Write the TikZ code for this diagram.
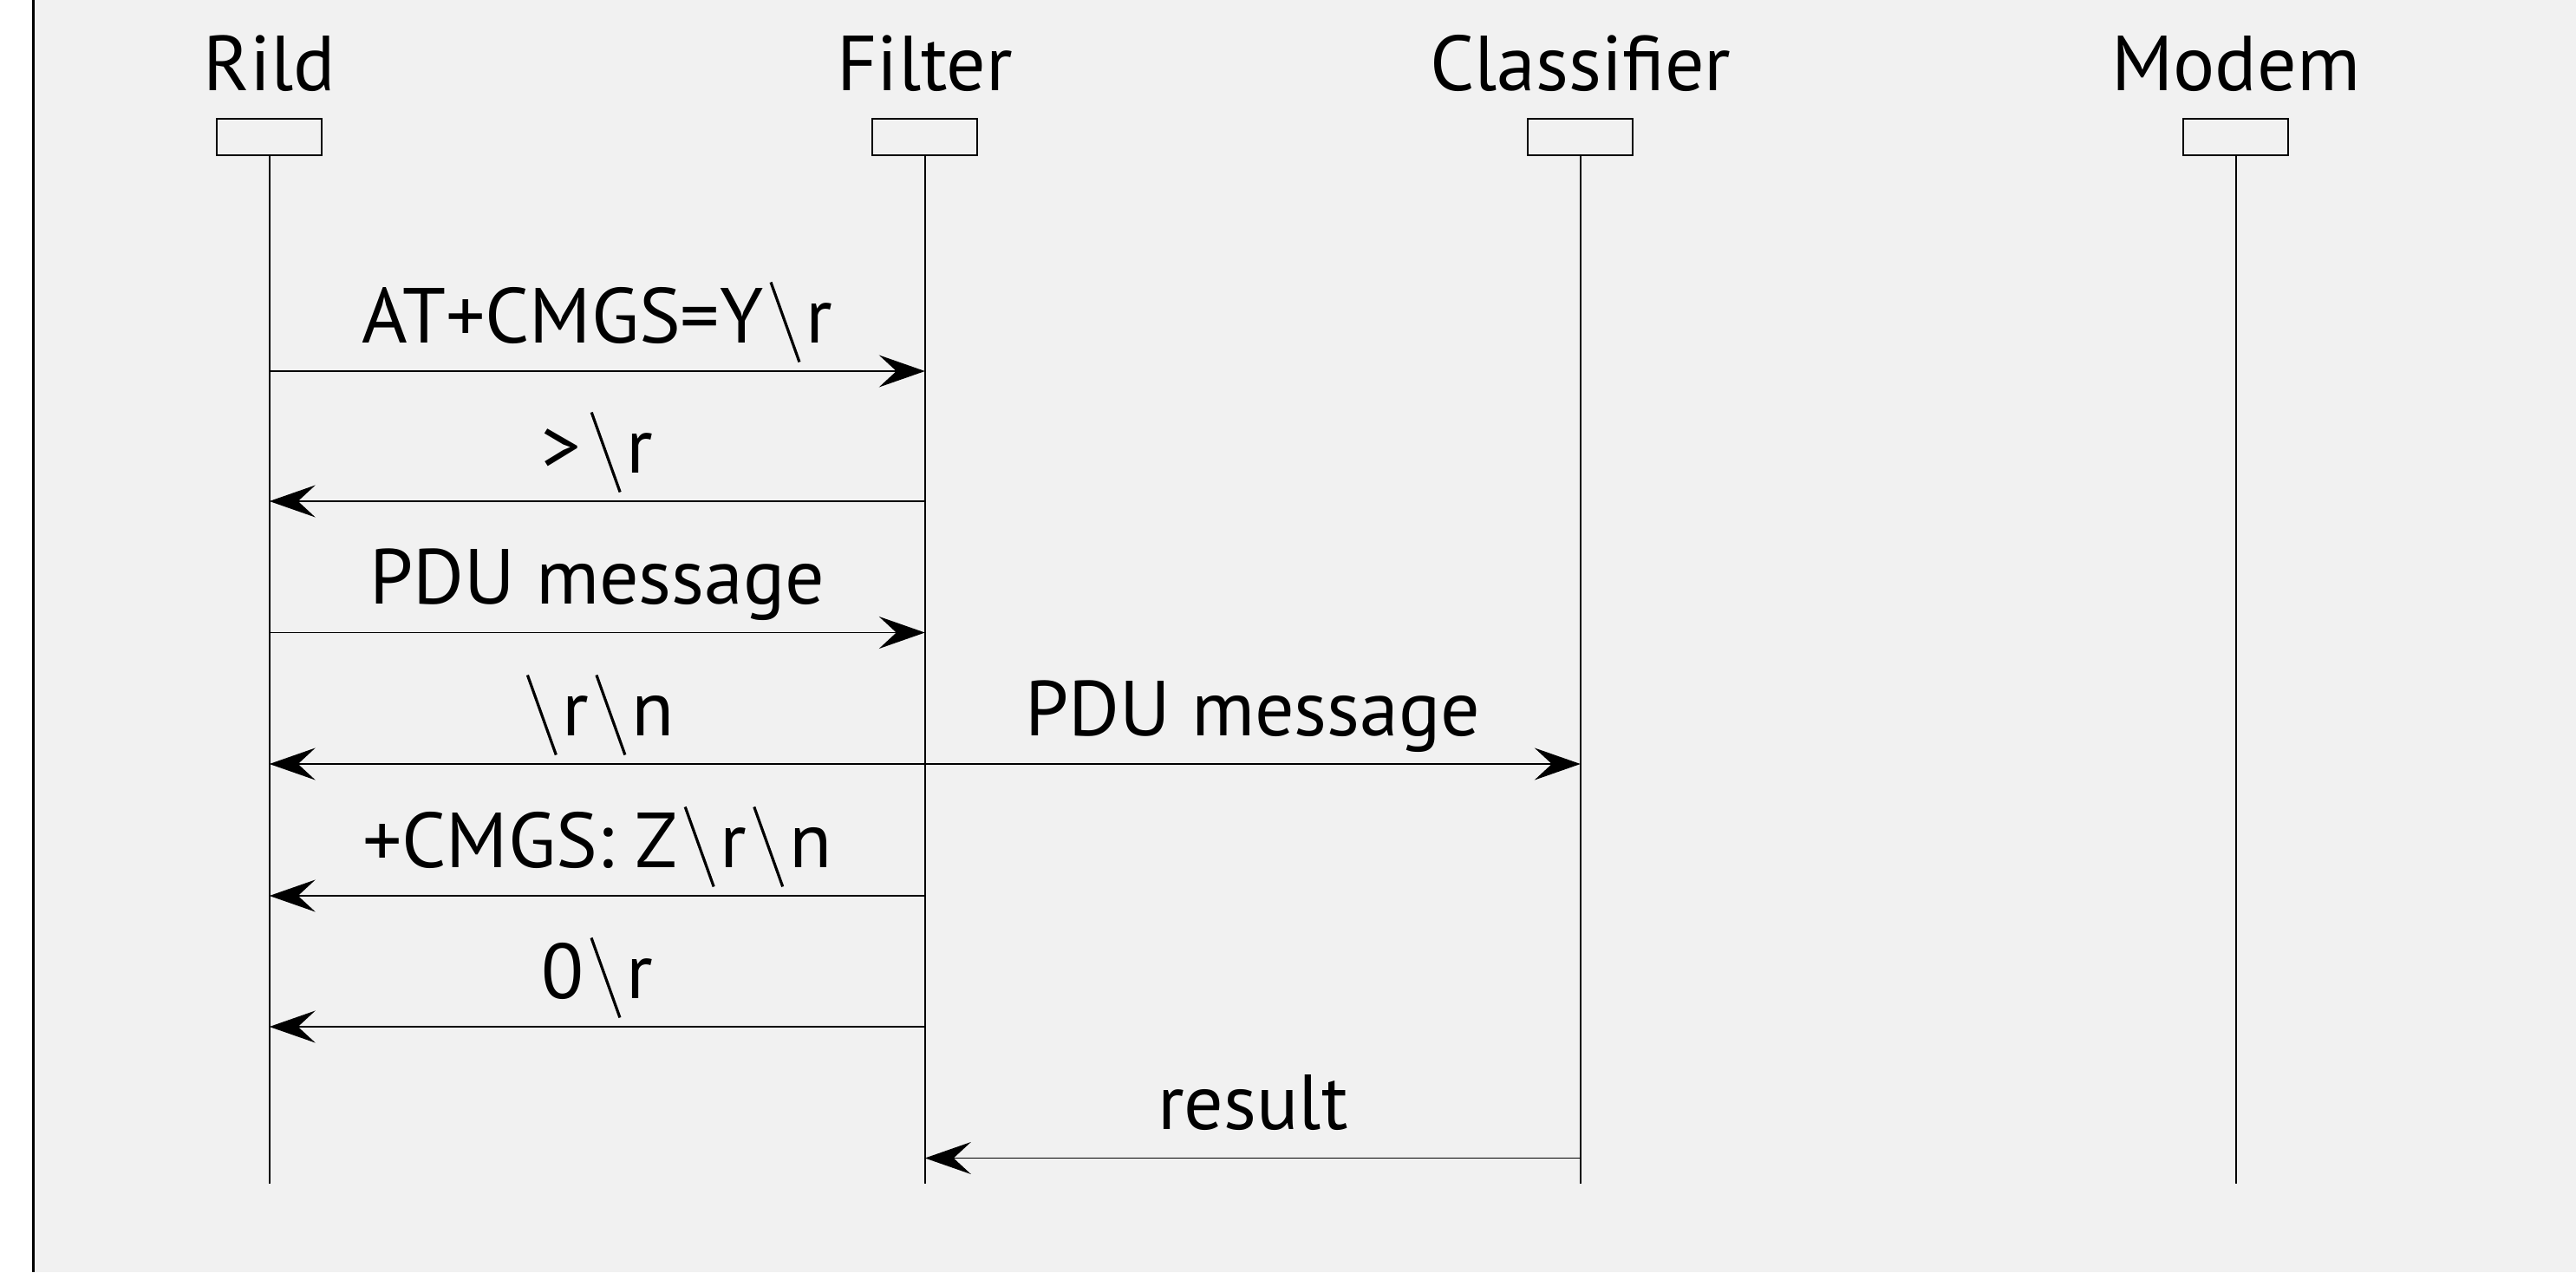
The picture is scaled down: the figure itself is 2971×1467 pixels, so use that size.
\documentclass[tikz,border=0pt]{standalone}
\usepackage{fontspec}
\usepackage{graphicx}
\setmainfont{PT Sans}
\usetikzlibrary{arrows.meta,calc}
\definecolor{bggray}{RGB}{241,241,241}
\newcommand{\bsl}{\hspace{7pt}\raisebox{-23pt}{\rotatebox{19.7}{\rule{3.2pt}{97.7pt}}}\hspace{6pt}}
\tikzset{
  headbox/.style={draw=black, line width=1.8pt, fill=bggray, minimum width=121pt, minimum height=42pt, inner sep=0pt},
  headlabel/.style={anchor=base, inner sep=0pt, font=\fontsize{90}{100}\selectfont},
  msglabel/.style={anchor=base, inner sep=0pt, font=\fontsize{90}{100}\selectfont},
  lifeline/.style={line width=1.8pt},
  msg/.style={line width=1.6pt, -{Stealth[length=53pt,width=37pt,inset=20pt]}}
}
\begin{document}
\begin{tikzpicture}[x=1pt,y=-1pt]
\useasboundingbox (0,0) rectangle (2971,1467);
\fill[white] (0,0) rectangle (2971,1467);
\fill[bggray] (38,0) rectangle (2971,1467);
\draw[line width=2.5pt] (38.5,0) -- (38.5,1467);

% lifeline heads
\foreach \n/\x/\t in {rild/310.7/Rild, filter/1066.8/Filter, classifier/1822.8/Classifier, modem/2578.8/Modem}{
  \node[headlabel] (\n label) at (\x,104) {\t};
  \node[headbox] (\n box) at (\x,158) {};
  \coordinate (\n end) at (\x,1365);
  \draw[lifeline] (\n box.south) -- (\n end);
}

% message anchor points
\foreach \i/\y in {1/428, 2/578, 3/729.5, 4/881, 5/1033, 6/1184, 7/1335.5}{
  \coordinate (r\i) at (310.7,\y);
  \coordinate (f\i) at (1066.8,\y);
  \coordinate (c\i) at (1822.8,\y);
}

\draw[msg] (r1) -- (f1);
\node[msglabel] (l1) at ($(r1)!0.5!(f1)+(0,-33)$) {AT+CMGS=Y\bsl r};

\draw[msg] (f2) -- (r2);
\node[msglabel] (l2) at ($(r2)!0.5!(f2)+(0,-33)$) {>\hspace{4pt}\bsl r};

\draw[msg] (r3) -- (f3);
\node[msglabel] (l3) at ($(r3)!0.5!(f3)+(0,-33)$) {PDU message};

\draw[msg] (f4) -- (r4);
\draw[msg] (f4) -- (c4);
\node[msglabel] (l4a) at ($(r4)!0.5!(f4)+(0,-33)$) {\bsl r\bsl n};
\node[msglabel] (l4b) at ($(f4)!0.5!(c4)+(0,-33)$) {PDU message};

\draw[msg] (f5) -- (r5);
\node[msglabel] (l5) at ($(r5)!0.5!(f5)+(0,-33)$) {+CMGS: Z\bsl r\bsl n};

\draw[msg] (f6) -- (r6);
\node[msglabel] (l6) at ($(r6)!0.5!(f6)+(0,-33)$) {0\bsl r};

\draw[msg] (c7) -- (f7);
\node[msglabel] (l7) at ($(f7)!0.5!(c7)+(0,-33)$) {result};
\end{tikzpicture}
\end{document}
